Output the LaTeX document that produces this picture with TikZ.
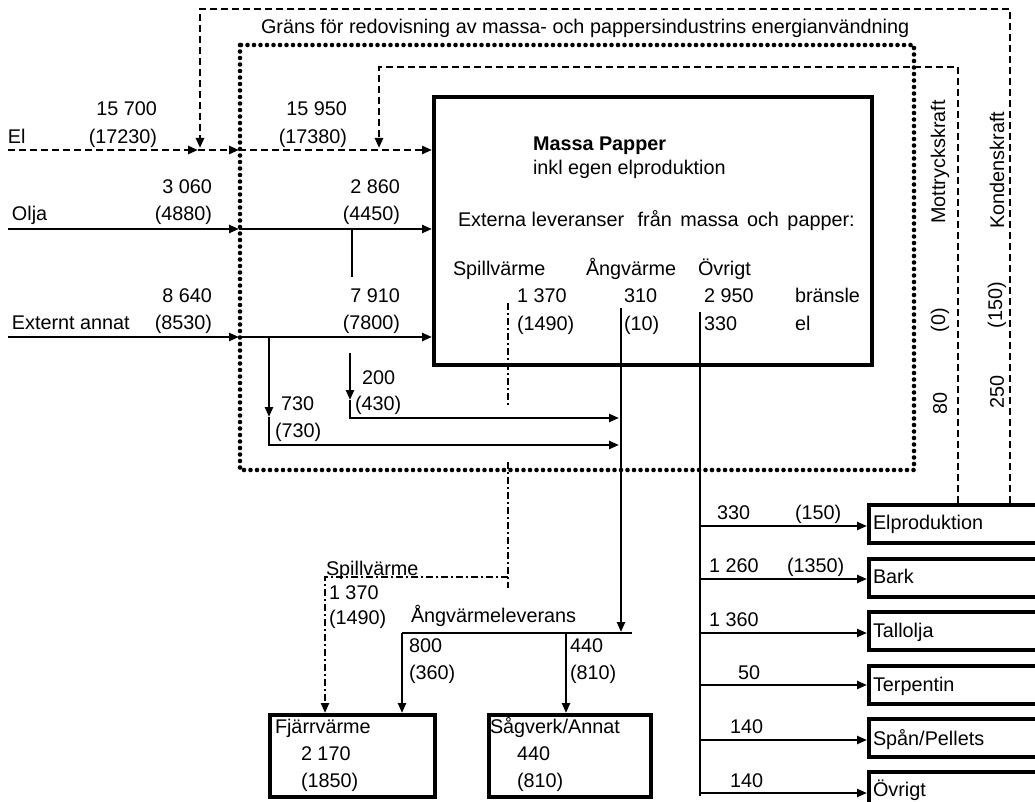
\documentclass[tikz,border=0pt]{standalone}
\usepackage{fontspec}
\setmainfont{Liberation Sans}
\usetikzlibrary{arrows.meta}
\begin{document}
\begin{tikzpicture}[x=1pt,y=-1pt,
  lbl/.style={font=\fontsize{19.8}{22}\selectfont, inner sep=0pt, outer sep=0pt},
  lw/.style={lbl, anchor=base west},
  le/.style={lbl, anchor=base east},
  rot/.style={lbl, rotate=90, anchor=center},
  bx/.style={draw, line width=4.2pt, inner sep=0pt, anchor=north west},
  con/.style={line width=2.3pt},
  tip/.style={-{Triangle[length=10pt,width=8pt]}},
  dsh/.style={line width=2.6pt, dash pattern=on 7pt off 4pt},
  dotb/.style={line width=4.6pt, line cap=round, dash pattern=on 0pt off 6.5pt},
  dashdot/.style={line width=2.2pt, dash pattern=on 7pt off 3pt on 2pt off 3pt}]
\path[use as bounding box] (0,0) rectangle (1035,802);
\begin{scope}
\clip (0,0) rectangle (1035,802);

% ---------- boxes ----------
\node[bx, minimum width=438pt, minimum height=268pt] (mp) at (432,95) {};
\node[bx, minimum width=165pt, minimum height=82pt] (fv) at (268,713) {};
\node[bx, minimum width=162pt, minimum height=82pt] (sv) at (487,713) {};
\node[bx, minimum width=190pt, minimum height=38pt] (elp) at (867,503) {};
\node[bx, minimum width=190pt, minimum height=38pt] (bark) at (867,557) {};
\node[bx, minimum width=190pt, minimum height=38pt] (tall) at (867,610) {};
\node[bx, minimum width=190pt, minimum height=38pt] (terp) at (867,664) {};
\node[bx, minimum width=190pt, minimum height=38pt] (span) at (867,717) {};
\node[bx, minimum width=190pt, minimum height=38pt] (ovr) at (867,770) {};

% ---------- boundary lines ----------
\coordinate (gTL) at (240,45);
\coordinate (gBR) at (914,470);
\draw[dotb] (gTL) rectangle (gBR);

\coordinate (elA) at (8,150);
\coordinate (elB) at (198,150);
\coordinate (elC) at (239,150);
\coordinate (kTop) at (1010,9);
\coordinate (kLeft) at (200,9);
\coordinate (kEnd) at (200,148);
\coordinate (mTop) at (958,67);
\coordinate (mLeft) at (379,67);
\coordinate (mEnd) at (379,148);
\draw[dsh,tip] (elp.north -| kTop) -- (kTop) -- (kLeft) -- (kEnd);
\draw[dsh,tip] (elp.north -| mTop) -- (mTop) -- (mLeft) -- (mEnd);

% ---------- inputs ----------
\draw[dsh,tip] (elA) -- (elB);
\draw[dsh,tip] (elB) -- (elC);
\draw[dsh,tip] (elC) -- (mp.west |- elA);

\coordinate (oA) at (8,229);
\coordinate (oB) at (239,229);
\draw[con,tip] (oA) -- (oB);
\draw[con,tip] (oB) -- (mp.west |- oA);
\coordinate (vA) at (352,229);
\coordinate (vB) at (352,277);
\draw[con] (vA) -- (vB);

\coordinate (eA) at (8,337);
\coordinate (eB) at (239,337);
\draw[con,tip] (eA) -- (eB);
\draw[con,tip] (eB) -- (mp.west |- eA);

\coordinate (b7a) at (269,337);
\coordinate (b7m) at (269,417);
\coordinate (b7c) at (269,445);
\coordinate (b7e) at (619,445);
\draw[con,tip] (b7a) -- (b7m);
\draw[con,tip] (b7m) -- (b7c) -- (b7e);

\coordinate (b2a) at (350,353);
\coordinate (b2m) at (350,400);
\coordinate (b2c) at (350,418);
\coordinate (b2e) at (619,418);
\draw[con,tip] (b2a) -- (b2m);
\draw[con,tip] (b2m) -- (b2c) -- (b2e);

% ---------- outputs ----------
\coordinate (sp1) at (508,303);
\coordinate (sp2) at (508,405);
\coordinate (sp3) at (508,462);
\coordinate (sp4) at (508,588);
\coordinate (sp5) at (508,577);
\coordinate (sp6) at (325,577);
\draw[dashdot] (sp1) -- (sp2);
\draw[dashdot] (sp3) -- (sp4);
\draw[dashdot,tip] (sp5) -- (sp6) -- (fv.north -| sp6);

\coordinate (av1) at (621,308);
\coordinate (av2) at (621,632);
\coordinate (avL) at (402,633);
\coordinate (avR) at (632,633);
\coordinate (avS) at (566,633);
\draw[con,tip] (av1) -- (av2);
\draw[con] (avL) -- (avR);
\draw[con,tip] (avL) -- (fv.north -| avL);
\draw[con,tip] (avS) -- (sv.north -| avS);

\coordinate (ov1) at (700,312);
\coordinate (ov2) at (700,796);
\draw[con] (ov1) -- (ov2);
\coordinate (r1) at (700,526);
\coordinate (r2) at (700,579);
\coordinate (r3) at (700,633);
\coordinate (r4) at (700,685);
\coordinate (r5) at (700,740);
\coordinate (r6) at (700,793);
\draw[con,tip] (r1) -- (elp.west |- r1);
\draw[con,tip] (r2) -- (bark.west |- r2);
\draw[con,tip] (r3) -- (tall.west |- r3);
\draw[con,tip] (r4) -- (terp.west |- r4);
\draw[con,tip] (r5) -- (span.west |- r5);
\draw[con,tip] (r6) -- (ovr.west |- r6);

% ---------- texts ----------
\node[lw] (tg) at (261,34) {Gräns för redovisning av massa- och pappersindustrins energianvändning};
\node[lw] (tel) at (8,144) {El};
\node[le] (t1) at (157,116) {15 700};
\node[le] (t2) at (157,144) {(17230)};
\node[le] (t3) at (347,116) {15 950};
\node[le] (t4) at (347,144) {(17380)};
\node[lw] (tolja) at (12,221) {Olja};
\node[le] (t5) at (212,194) {3 060};
\node[le] (t6) at (212,221) {(4880)};
\node[le] (t7) at (400,194) {2 860};
\node[le] (t8) at (400,221) {(4450)};
\node[lw] (text) at (12,329) {Externt annat};
\node[le] (t9) at (212,302) {8 640};
\node[le] (t10) at (212,329) {(8530)};
\node[le] (t11) at (400,302) {7 910};
\node[le] (t12) at (400,329) {(7800)};
\node[lw] (t13) at (362,384) {200};
\node[lw] (t14) at (355,410) {(430)};
\node[lw] (t15) at (281,410) {730};
\node[lw] (t16) at (275,437) {(730)};

\node[lw, font=\fontsize{19.8}{22}\selectfont\bfseries] (tmp) at (533,151) {Massa Papper};
\node[lw] (tinkl) at (533,175) {inkl egen elproduktion};
\node[lw] (text2) at (458,226) {Externa leveranser\hspace{8pt} från\hspace{3pt} massa\hspace{3pt} och\hspace{3pt} papper:};
\node[lw] (tsv) at (453,276) {Spillvärme};
\node[lw] (tav) at (586,276) {Ångvärme};
\node[lw] (tov) at (698,276) {Övrigt};
\node[lw] (t17) at (517,302) {1 370};
\node[lw] (t18) at (624,302) {310};
\node[lw] (t19) at (704,302) {2 950};
\node[lw] (t20) at (795,302) {bränsle};
\node[lw] (t21) at (517,330) {(1490)};
\node[lw] (t22) at (624,330) {(10)};
\node[lw] (t23) at (704,330) {330};
\node[lw] (t24) at (795,330) {el};

\node[rot] (tmk) at (940,162) {Mottryckskraft};
\node[rot] (t25) at (940,320) {(0)};
\node[rot] (t26) at (940,403) {80};
\node[rot] (tkk) at (997,170) {Kondenskraft};
\node[rot] (t27) at (997,305) {(150)};
\node[rot] (t28) at (997,392) {250};

\node[lw] (tsv2) at (326,575) {Spillvärme};
\node[lw] (t29) at (329,599) {1 370};
\node[lw] (t30) at (329,624) {(1490)};
\node[lw] (tavl) at (411,622) {Ångvärmeleverans};
\node[lw] (t31) at (409,652) {800};
\node[lw] (t32) at (409,679) {(360)};
\node[lw] (t33) at (570,652) {440};
\node[lw] (t34) at (570,679) {(810)};
\node[lw] (tfv) at (275,733) {Fjärrvärme};
\node[lw] (t35) at (301,760) {2 170};
\node[lw] (t36) at (301,787) {(1850)};
\node[lw] (tsg) at (490,733) {Sågverk/Annat};
\node[lw] (t37) at (517,760) {440};
\node[lw] (t38) at (517,787) {(810)};

\node[lw] (t39) at (717,519) {330};
\node[lw] (t40) at (795,519) {(150)};
\node[lw] (t41) at (709,572) {1 260};
\node[lw] (t42) at (787,572) {(1350)};
\node[lw] (t43) at (709,626) {1 360};
\node[lw] (t44) at (738,679) {50};
\node[lw] (t45) at (730,733) {140};
\node[lw] (t46) at (730,787) {140};

\node[lw] (telp) at (873,529) {Elproduktion};
\node[lw] (tbark) at (873,583) {Bark};
\node[lw] (ttall) at (873,637) {Tallolja};
\node[lw] (tterp) at (873,691) {Terpentin};
\node[lw] (tspan) at (873,745) {Spån/Pellets};
\node[lw] (tovr) at (873,796) {Övrigt};
\end{scope}
\end{tikzpicture}
\end{document}
